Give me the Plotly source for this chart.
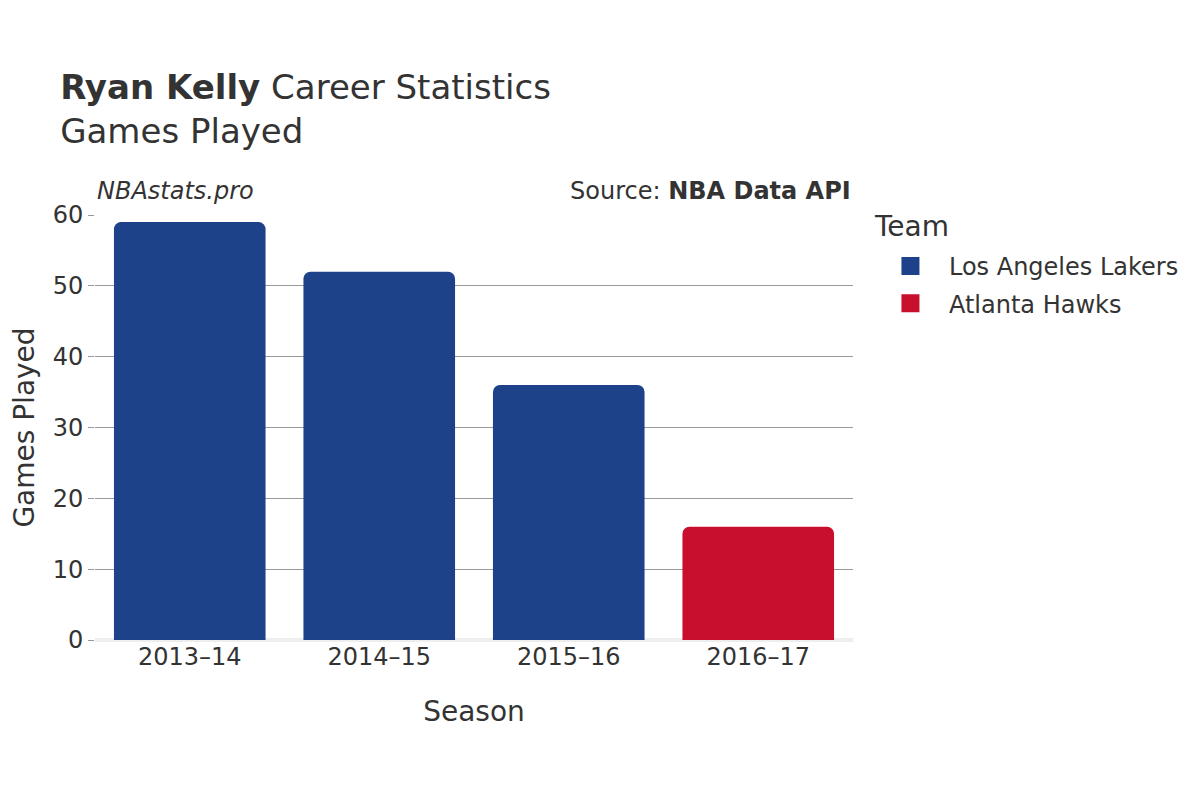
import plotly.graph_objects as go

seasons = ["2013–14", "2014–15", "2015–16", "2016–17"]
teams = ["Los Angeles Lakers", "Los Angeles Lakers", "Los Angeles Lakers", "Atlanta Hawks"]
games = [59, 52, 36, 16]
team_colors = {"Los Angeles Lakers": "#1D428A", "Atlanta Hawks": "#C8102E"}
team_order = ["Los Angeles Lakers", "Atlanta Hawks"]

FONT = "DejaVu Sans"

fig = go.Figure()
for t in team_order:
    xs = [s for s, tt in zip(seasons, teams) if tt == t]
    ys = [g for g, tt in zip(games, teams) if tt == t]
    fig.add_trace(go.Bar(x=xs, y=ys, name=t, marker_color=team_colors[t],
                         marker_line_width=0, showlegend=False, legendgroup=t))
    # legend proxy with larger swatch
    fig.add_trace(go.Scatter(x=[xs[0]], y=[None], mode="markers", name=t,
                             legendgroup=t,
                             marker=dict(symbol="square", size=21, color=team_colors[t],
                                         line=dict(width=2, color=team_colors[t]))))

fig.update_layout(
    width=1200, height=800,
    paper_bgcolor="white", plot_bgcolor="white",
    font=dict(family=FONT, color="#333333", size=22),
    barmode="relative", bargap=0.2, barcornerradius=7,
    margin=dict(l=87, r=355, t=207, b=168, autoexpand=False),
    title=dict(
        text="<b>Ryan Kelly</b> Career Statistics<br>Games Played",
        x=0.0435, xanchor="left", xref="container", y=0.886, yanchor="top",
        font=dict(family=FONT, size=34, color="#333333"),
    ),
    xaxis=dict(
        categoryorder="array", categoryarray=seasons,
        title=dict(text="Season", font=dict(size=28), standoff=31),
        tickfont=dict(size=24), showgrid=False, ticks="", showline=False,
        automargin=False,
    ),
    yaxis=dict(
        title=dict(text="Games Played", font=dict(size=28), standoff=21),
        tickfont=dict(size=24), range=[0, 60], dtick=10,
        showgrid=True, gridcolor="#999999", gridwidth=1,
        zeroline=True, zerolinecolor="#eeeeee", zerolinewidth=4,
        ticks="outside", ticklen=6, tickcolor="#999999",
        automargin=False,
    ),
    legend=dict(
        font=dict(size=24), x=1.025, xanchor="left", y=0.932, yanchor="top",
        itemwidth=67, tracegroupgap=3,
    ),
    annotations=[
        dict(text="<i>NBAstats.pro</i>", x=0, xref="paper", xanchor="left",
             y=1.0, yref="paper", yanchor="bottom", yshift=8, showarrow=False,
             font=dict(size=24, color="#333333")),
        dict(text="Source: <b>NBA Data API</b>", x=1, xref="paper", xanchor="right",
             y=1.0, yref="paper", yanchor="bottom", yshift=8, showarrow=False,
             font=dict(size=24, color="#333333")),
        dict(text="Team", x=1, xref="paper", xanchor="left", xshift=19,
             y=1.0, yref="paper", yanchor="middle", yshift=-11, showarrow=False,
             font=dict(size=28, color="#333333")),
    ],
)

fig.write_html("out.html")
